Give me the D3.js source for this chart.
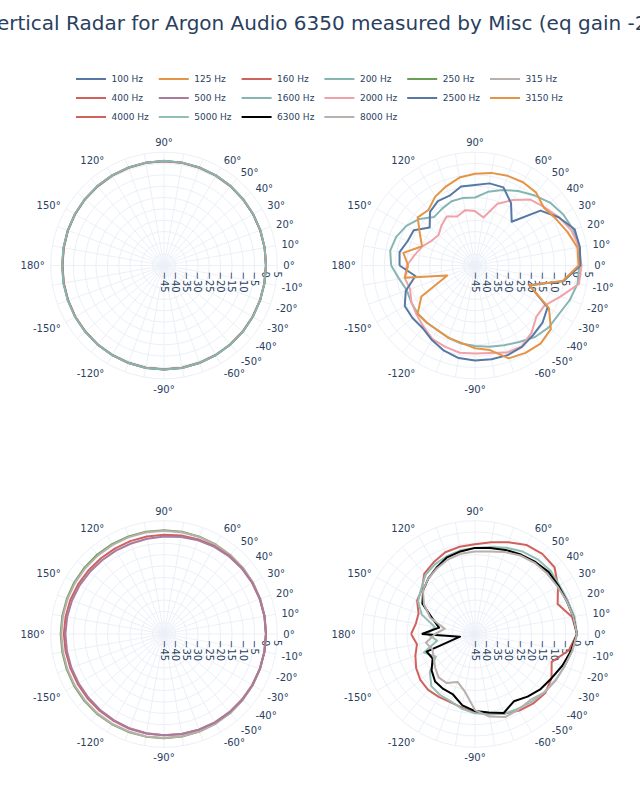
<!DOCTYPE html>
<html><head><meta charset="utf-8">
<script src="https://cdn.jsdelivr.net/npm/d3@7"></script>
<style>body{margin:0;background:#fff}svg{display:block}</style>
</head><body>
<svg id="chart" width="640" height="800"></svg>
<script>
const titleText = "Vertical Radar for Argon Audio 6350 measured by Misc (eq gain -2)";
const angles = [-180,-170,-160,-150,-140,-130,-120,-110,-100,-90,-80,-70,-60,-50,-40,-30,-20,-10,0,10,20,30,40,50,60,70,80,90,100,110,120,130,140,150,160,170,180];
const angularTicks = [0,10,20,30,40,50,60,90,120,150,180,-150,-120,-90,-60,-50,-40,-30,-20,-10];
const radialTicks = [-45,-40,-35,-30,-25,-20,-15,-10,-5,0,5];
const frequencies = ["100 Hz","125 Hz","160 Hz","200 Hz","250 Hz","315 Hz","400 Hz","500 Hz","1600 Hz","2000 Hz","2500 Hz","3150 Hz","4000 Hz","5000 Hz","6300 Hz","8000 Hz"];
const colors = ["#5778a4","#e49444","#d1615d","#85b6b2","#6a9f58","#b8b0ac","#d1615d","#a87c9f","#85b6b2","#f1a2a9","#5778a4","#e49444","#d1615d","#94bdb5","#000000","#b8b0ac"];

const f100 = [-0.2,-0.1,0.0,0.2,0.3,0.5,0.6,0.7,0.8,0.8,0.8,0.7,0.6,0.5,0.4,0.2,0.1,0.0,0.0,0.1,0.2,0.4,0.5,0.7,0.8,0.9,1.0,1.0,1.0,0.9,0.8,0.6,0.5,0.3,0.1,-0.1,-0.2];
const f125 = [-0.1,0.0,0.1,0.2,0.4,0.5,0.7,0.8,0.8,0.9,0.8,0.7,0.6,0.5,0.3,0.2,0.1,0.0,0.0,0.1,0.3,0.4,0.6,0.7,0.8,0.9,1.0,1.1,1.0,0.9,0.8,0.7,0.5,0.3,0.2,0.0,-0.1];
const f160 = [-0.1,0.0,0.1,0.3,0.4,0.6,0.7,0.8,0.9,0.9,0.9,0.8,0.7,0.5,0.4,0.2,0.1,0.0,0.0,0.1,0.2,0.4,0.5,0.7,0.9,1.0,1.1,1.1,1.1,1.0,0.9,0.7,0.6,0.4,0.2,0.0,-0.1];
const f200 = [0.0,0.1,0.2,0.3,0.5,0.6,0.7,0.8,0.9,0.9,0.9,0.8,0.7,0.6,0.4,0.3,0.1,0.0,0.0,0.1,0.3,0.4,0.6,0.8,0.9,1.0,1.1,1.2,1.1,1.0,0.9,0.8,0.6,0.4,0.2,0.1,0.0];
const f250 = [0.6,0.6,0.7,0.8,0.9,1.0,1.0,1.0,1.0,1.0,0.9,0.8,0.6,0.5,0.3,0.2,0.1,0.0,0.0,0.1,0.2,0.3,0.4,0.5,0.6,0.7,0.8,0.8,0.8,0.8,0.8,0.8,0.7,0.7,0.6,0.6,0.6];
const f315 = [0.3,0.3,0.4,0.5,0.6,0.7,0.8,0.8,0.9,0.9,0.8,0.7,0.6,0.5,0.3,0.2,0.1,0.0,0.0,0.1,0.2,0.3,0.4,0.5,0.6,0.6,0.6,0.6,0.6,0.5,0.4,0.3,0.3,0.3,0.3,0.3,0.3];
const f400 = [-0.8,-0.9,-1.0,-1.0,-0.9,-0.8,-0.7,-0.5,-0.4,-0.3,-0.2,-0.1,0.0,0.0,0.0,0.0,0.0,0.0,0.0,0.0,0.0,0.0,0.0,-0.1,-0.3,-0.6,-0.9,-1.2,-1.3,-1.4,-1.5,-1.5,-1.4,-1.2,-1.0,-0.9,-0.8];
const f500 = [-1.5,-1.5,-1.5,-1.5,-1.4,-1.2,-1.0,-0.7,-0.5,-0.3,-0.2,-0.1,0.0,0.0,0.0,0.0,0.0,0.0,0.0,0.0,0.0,0.0,-0.1,-0.3,-0.6,-1.0,-1.5,-2.0,-2.3,-2.5,-2.5,-2.5,-2.3,-2.0,-1.8,-1.6,-1.5];
const f1600 = [-8,-11,-13,-12.5,-12,-12,-12,-11,-10,-9.5,-8.6,-7.5,-6,-3.8,-2.5,-2.2,-0.5,1,1,1.5,1.2,0,-1.8,-4.5,-7,-9.5,-12,-15,-14.7,-14.8,-16,-17,-13,-10,-8,-7,-8];
const f2000 = [-14.9,-13.5,-14.5,-12.6,-11.3,-9.7,-7.5,-6.8,-5.9,-6.2,-5.8,-4.1,-3.8,-6.2,-9.7,-9.6,-4.9,1.6,2,1.6,0.3,-2.3,-5,-7,-11.6,-16,-23.5,-21,-20.2,-22,-20,-22,-24,-23,-20.3,-18,-14.9];
const f2500 = [-11.7,-18.3,-12.5,-9.2,-9,-9,-7,-5,-3.5,-3.1,-3,-2.9,-3.5,-5,-6,-8,-19.4,-5.3,1.5,2,1.8,-2.4,-7.3,-19.8,-13.2,-8.3,-8.2,-9.5,-9.6,-12.2,-12.2,-14.1,-18.9,-13.8,-13.4,-11.2,-11.7];
const f3150 = [-15.5,-13.6,-32,-17.7,-11.9,-12,-12,-11,-10.3,-8.5,-7.1,-1.4,-0.5,0,-1.3,-7.3,-19.5,-5.7,0.7,0.9,-1.6,-3.8,-5.3,-3,-2.6,-2.9,-3.5,-4.5,-5.6,-7.8,-9.9,-13,-12,-16.9,-20.1,-12.9,-15.5];
const f4000 = [-16.8,-19,-17,-15,-13.5,-12.8,-13,-13,-12,-10.5,-9,-7.5,-6,-5,-4.5,-6,-9,-3,0,-1.5,-6.2,-2.7,0.8,1.2,0.4,-1.9,-3.9,-5.4,-5.9,-6.6,-8.5,-10.2,-14.4,-15.5,-18.5,-18.5,-16.8];
const f5000 = [-24,-28,-21,-25,-19,-15,-14,-13.5,-11.5,-10,-9,-7.5,-7,-6,-5,-4,-3,-1.5,0,-0.5,-1.5,-2,-1.5,-2,-3,-4.5,-6,-7,-7.5,-8.5,-9.5,-11,-14,-16,-20,-27,-24];
const f6300 = [-21.5,-38.3,-22.3,-23.4,-20,-17.6,-17,-16.6,-13,-11,-9.8,-7.9,-10.7,-8.9,-7.2,-6,-4,-2,0,-1,-2,-2.5,-2.5,-3.5,-4.5,-5.5,-6.5,-7,-8,-9,-11.1,-13,-15.1,-18.2,-25,-28.9,-21.5];
const f8000 = [-27.4,-23,-25,-24,-22,-20,-20,-22.5,-19.2,-11.4,-8,-6,-6.5,-7,-5,-4,-3,-1.5,0,-1,-2,-3,-3.5,-4,-5,-6.5,-8,-8.6,-9,-10,-11.5,-13,-15,-19,-24,-31.5,-27.4];
const seriesValues = [f100,f125,f160,f200,f250,f315,f400,f500,f1600,f2000,f2500,f3150,f4000,f5000,f6300,f8000];
const panelSeries = [[0,1,2,3],[8,9,10,11],[4,5,6,7],[12,13,14,15]];

const svg = d3.select("#chart");
const font = "'DejaVu Sans', Verdana, sans-serif";
const textColor = "#2a3f5f";
const gridColor = "#ebf0f8";
svg.append("rect").attr("width",640).attr("height",800).attr("fill","#fff");

svg.append("text").attr("x",320).attr("y",30).attr("text-anchor","middle")
  .attr("font-family",font).attr("font-size",20).attr("fill",textColor).text(titleText);

// legend
const legend = svg.append("g");
frequencies.forEach((f,i)=>{
  const c = i%6, rr = Math.floor(i/6);
  const x = 71 + c*82.8, y = 79 + rr*19;
  const g = legend.append("g").attr("transform",`translate(${x},${y})`);
  g.append("line").attr("x1",5).attr("x2",35).attr("y1",0).attr("y2",0)
    .attr("stroke",colors[i]).attr("stroke-width",2);
  g.append("text").attr("x",40.5).attr("y",0).attr("dy","0.35em")
    .attr("font-family",font).attr("font-size",9).attr("fill",textColor).text(f);
});

const R = 113.3;
const rScale = d3.scaleLinear().domain([-45,5]).range([0,R]).clamp(true);
const centers = [[164,265.5],[475,265.5],[164,634],[475,634]];
const fmt = d3.format("d");
const gridAngles = d3.range(0,360,10);

panelSeries.forEach((idxs,p)=>{
  const [cx,cy] = centers[p];
  const g = svg.append("g").attr("transform",`translate(${cx},${cy})`);
  g.selectAll("circle.grid").data(radialTicks.slice(1)).enter().append("circle")
    .attr("r",d=>rScale(d)).attr("fill","none").attr("stroke",gridColor).attr("stroke-width",1);
  g.selectAll("line.spoke").data(gridAngles).enter().append("line")
    .attr("x1",0).attr("y1",0)
    .attr("x2",d=>R*Math.cos(d*Math.PI/180)).attr("y2",d=>-R*Math.sin(d*Math.PI/180))
    .attr("stroke",gridColor).attr("stroke-width",1);
  angularTicks.forEach(a=>{
    const rad = a*Math.PI/180, cs = Math.cos(rad), sn = Math.sin(rad);
    const fs = 10;
    const ff = sn > 0 ? 0.2 : 1;
    const x = (R+6)*cs;
    const y = -sn*(R+4+fs*ff) + Math.abs(cs)*fs*0.35;
    const anchor = Math.abs(cs) < 0.1 ? "middle" : (cs > 0 ? "start" : "end");
    g.append("text").attr("x",x).attr("y",y).attr("text-anchor",anchor)
      .attr("font-family",font).attr("font-size",fs).attr("fill",textColor).text(a+"°");
  });
  radialTicks.forEach(t=>{
    g.append("text").attr("transform",`translate(${rScale(t)},6) rotate(90)`)
      .attr("dy","0.35em").attr("text-anchor","start")
      .attr("font-family",font).attr("font-size",10).attr("fill",textColor).text(fmt(t));
  });
  const line = d3.lineRadial()
    .angle(d=>(90-d[0])*Math.PI/180)
    .radius(d=>rScale(d[1]));
  idxs.forEach(i=>{
    const pts = angles.map((a,k)=>[a,seriesValues[i][k]]);
    g.append("path").attr("d",line(pts)).attr("fill","none")
      .attr("stroke",colors[i]).attr("stroke-width",2).attr("stroke-linejoin","round");
  });
});
</script>
</body></html>
